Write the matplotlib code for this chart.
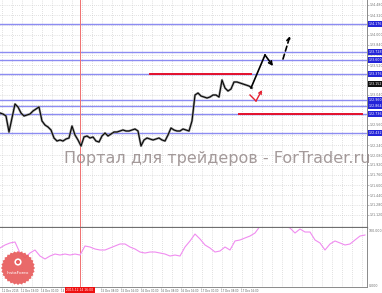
import numpy as np
import matplotlib
matplotlib.use("Agg")
import matplotlib.pyplot as plt
from matplotlib.patches import Polygon, Circle
import matplotlib.transforms as mtransforms

# ---------------- data ----------------
closes = [122.752, 122.736, 122.704, 122.448, 122.672, 122.896, 122.848, 122.752,
          122.704, 122.720, 122.736, 122.784, 122.816, 122.848, 122.624, 122.560,
          122.528, 122.480, 122.352, 122.304, 122.320, 122.304, 122.336, 122.352,
          122.544, 122.400, 122.320, 122.224, 122.368, 122.384, 122.352, 122.368,
          122.304, 122.288, 122.384, 122.432, 122.384, 122.416, 122.448, 122.448,
          122.464, 122.480, 122.464, 122.464, 122.480, 122.496, 122.464, 122.224,
          122.320, 122.352, 122.336, 122.320, 122.336, 122.352, 122.320, 122.304,
          122.400, 122.512, 122.480, 122.464, 122.464, 122.496, 122.480, 122.464,
          122.624, 123.040, 123.072, 123.024, 123.008, 122.992, 123.008, 123.040,
          123.040, 123.008, 123.280, 123.152, 123.104, 123.136, 123.248, 123.248,
          123.232, 123.216, 123.200, 123.184, 123.152]
bar_step = 3  # chart units per bar

indicator = [66.1, 71.2, 74.6, 76.3, 57.6, 49.2, 57.6, 62.7, 52.5, 47.5, 52.5, 55.9,
             54.2, 55.9, 54.2, 55.9, 54.2, 69.5, 67.8, 64.4, 62.7, 62.7, 66.1, 69.5,
             72.9, 72.9, 67.8, 64.4, 59.3, 57.6, 59.3, 59.3, 57.6, 55.9, 52.5, 54.2,
             52.5, 67.8, 78.0, 89.8, 81.4, 71.2, 66.1, 59.3, 61.0, 67.8, 62.7, 78.0,
             79.7, 83.1, 86.4, 91.5, 103.0, 108.0, 112.0, 110.0, 106.0, 103.0, 100.0,
             91.5, 98.3, 93.2, 93.2, 79.7, 74.6, 62.7, 72.9, 78.0, 74.6, 71.2, 72.9,
             79.7, 86.4, 88.1]
ind_step = 5

blue_levels = [124.176, 123.728, 123.600, 123.376, 122.960, 122.864, 122.736, 122.432]
red_upper = 123.376
red_upper_span = [150, 251]
red_lower = 122.736
red_lower_span = [239, 362]
marker_time = 80

fc_x = [251, 265, 273]
fc_y = [123.152, 123.680, 123.504]
fc2_x = [283, 290]
fc2_y = [123.616, 123.984]
alt_x = [250, 256, 262]
alt_y = [123.040, 122.944, 123.120]

price_ticks = [round(124.48 - 0.16 * k, 3) for k in range(22)]
time_ticks = [2, 21, 41, 61, 101, 121, 141, 161, 181, 201, 221, 241]
time_labels = ["11 Dec 2015", "11 Dec 19:00", "14 Dec 00:00", "14 Dec 08:00",
               "15 Dec 08:00", "15 Dec 16:00", "16 Dec 00:00", "16 Dec 08:00",
               "16 Dec 16:00", "17 Dec 00:00", "17 Dec 08:00", "17 Dec 16:00"]
marker_label = "2015.12.14 16:00"
ind_ticks = [95.0, 3.0]
ind_labels = ["100.000", "0.000"]

# ---------------- figure ----------------
W, H = 382, 293
fig = plt.figure(figsize=(W / 100, H / 100), dpi=100)
fig.patch.set_facecolor("white")

ax = fig.add_axes([0, 1 - 228 / H, 367 / W, 228 / H])
ax2 = fig.add_axes([0, 1 - 287 / H, 367 / W, 59 / H])

for a in (ax, ax2):
    a.set_xlim(0, 367)
    a.set_facecolor("white")
    a.spines["left"].set_visible(False)
    a.spines["top"].set_visible(False)
    a.spines["right"].set_color("#8a8a8a")
    a.spines["right"].set_linewidth(0.7)
    a.grid(False)
    for gx in np.arange(2, 367, 10):
        a.axvline(gx, color="#c4c4c4", lw=0.5, ls=(0, (1, 2)), zorder=0)

ax.set_ylim(120.912, 124.56)
ax.spines["bottom"].set_color("#6f6f6f")
ax.spines["bottom"].set_linewidth(1.6)
for p in price_ticks:
    ax.axhline(p, color="#c4c4c4", lw=0.5, ls=(0, (1, 2)), zorder=0)
ax.yaxis.tick_right()
ax.set_yticks(price_ticks)
ax.set_yticklabels([f"{p:.3f}" for p in price_ticks])
ax.tick_params(axis="y", labelsize=2.3, labelcolor="#707070", length=1.2, width=0.4,
               color="#8a8a8a", pad=0.8)
ax.set_xticks([])

# levels
for lv in blue_levels:
    ax.axhline(lv, color="#8c8cf2", lw=1.0, zorder=1)
ax.axvline(marker_time, color="#f07070", lw=0.7, zorder=1)
ax.plot(red_upper_span, [red_upper, red_upper], color="#e4102c", lw=1.4, zorder=2)
ax.plot(red_lower_span, [red_lower, red_lower], color="#e4102c", lw=1.4, zorder=2)

# price
cx = np.arange(len(closes)) * bar_step
ax.plot(cx, closes, color="#8a8a8a", lw=1.6, zorder=3)
ax.plot(cx, closes, color="black", lw=0.7, zorder=4)

# forecast arrows
ax.plot(fc_x[:2], fc_y[:2], color="black", lw=1.2, zorder=5)
ax.annotate("", xy=(fc_x[2], fc_y[2]), xytext=(fc_x[1], fc_y[1]),
            arrowprops=dict(arrowstyle="->", color="black", lw=1.2, mutation_scale=6,
                            shrinkA=0, shrinkB=0), zorder=5)
ax.annotate("", xy=(fc2_x[1], fc2_y[1]), xytext=(fc2_x[0], fc2_y[0]),
            arrowprops=dict(arrowstyle="->", color="black", lw=1.2, ls=(0, (3, 2)),
                            mutation_scale=6, shrinkA=0, shrinkB=0), zorder=5)
ax.plot(alt_x[:2], alt_y[:2], color="#e42030", lw=1.0, zorder=5)
ax.annotate("", xy=(alt_x[2], alt_y[2]), xytext=(alt_x[1], alt_y[1]),
            arrowprops=dict(arrowstyle="->", color="#e42030", lw=1.0, mutation_scale=5,
                            shrinkA=0, shrinkB=0), zorder=5)

# price labels on the right axis
trans = mtransforms.blended_transform_factory(ax.transAxes, ax.transData)
for lv in blue_levels:
    ax.text(1.004, lv, f"{lv:.3f}", transform=trans, fontsize=2.3, color="white",
            va="center", ha="left", clip_on=False, zorder=10,
            bbox=dict(boxstyle="square,pad=0.3", fc="#2424d8", ec="none"))
ax.text(1.004, closes[-1] + 0.064, f"{closes[-1]:.3f}", transform=trans, fontsize=2.3,
        color="white", va="center", ha="left", clip_on=False, zorder=10,
        bbox=dict(boxstyle="square,pad=0.3", fc="#101010", ec="none"))

# indicator window
ax2.set_ylim(0, 100)
ax2.spines["bottom"].set_color("#8a8a8a")
ax2.spines["bottom"].set_linewidth(0.7)
ix = np.arange(len(indicator)) * ind_step
ax2.plot(ix, indicator, color="#f08cf0", lw=0.8, zorder=3)
ax2.axvline(marker_time, color="#f07070", lw=0.7, zorder=1)
ax2.yaxis.tick_right()
ax2.set_yticks(ind_ticks)
ax2.set_yticklabels(ind_labels)
ax2.tick_params(axis="y", labelsize=2.3, labelcolor="#707070", length=0, pad=1.5)
ax2.set_xticks(time_ticks)
ax2.set_xticklabels(time_labels)
ax2.tick_params(axis="x", labelsize=1.9, labelcolor="#606060", length=1, width=0.4,
                pad=0.8, color="#8a8a8a")
for lbl in ax2.get_xticklabels():
    lbl.set_ha("left")
ax2.text(marker_time, -2.5, marker_label, transform=ax2.transData, fontsize=2.2,
         color="white", ha="center", va="top", clip_on=False, zorder=10,
         bbox=dict(boxstyle="square,pad=0.5", fc="#ee1010", ec="none"))

# watermark
fig.text(64 / W, 1 - 163 / H, "Портал для трейдеров - ForTrader.ru", fontsize=11.5,
         color="#9a8f8f", alpha=0.9, ha="left", va="baseline", zorder=20,
         family=["DejaVu Sans"])

# InstaForex badge
ov = fig.add_axes([0, 0, 1, 1], facecolor="none")
ov.set_xlim(0, W)
ov.set_ylim(H, 0)
ov.axis("off")
n = 56
ang = np.linspace(0, 2 * np.pi, n, endpoint=False)
rad = np.where(np.arange(n) % 2 == 0, 17.0, 15.6)
pts = np.column_stack([18 + rad * np.cos(ang), 268 + rad * np.sin(ang)])
ov.add_patch(Polygon(pts, closed=True, fc="#e85c5c", ec="none", alpha=0.92))
ov.add_patch(Circle((18, 262), 3.6, fc="white", ec="none"))
ov.add_patch(Circle((18, 262), 2.0, fc="#e85c5c", ec="none"))
ov.text(18, 273, "InstaForex", fontsize=3.2, color="white", ha="center", va="center")

fig.savefig("out.png", dpi=100, facecolor="white")
